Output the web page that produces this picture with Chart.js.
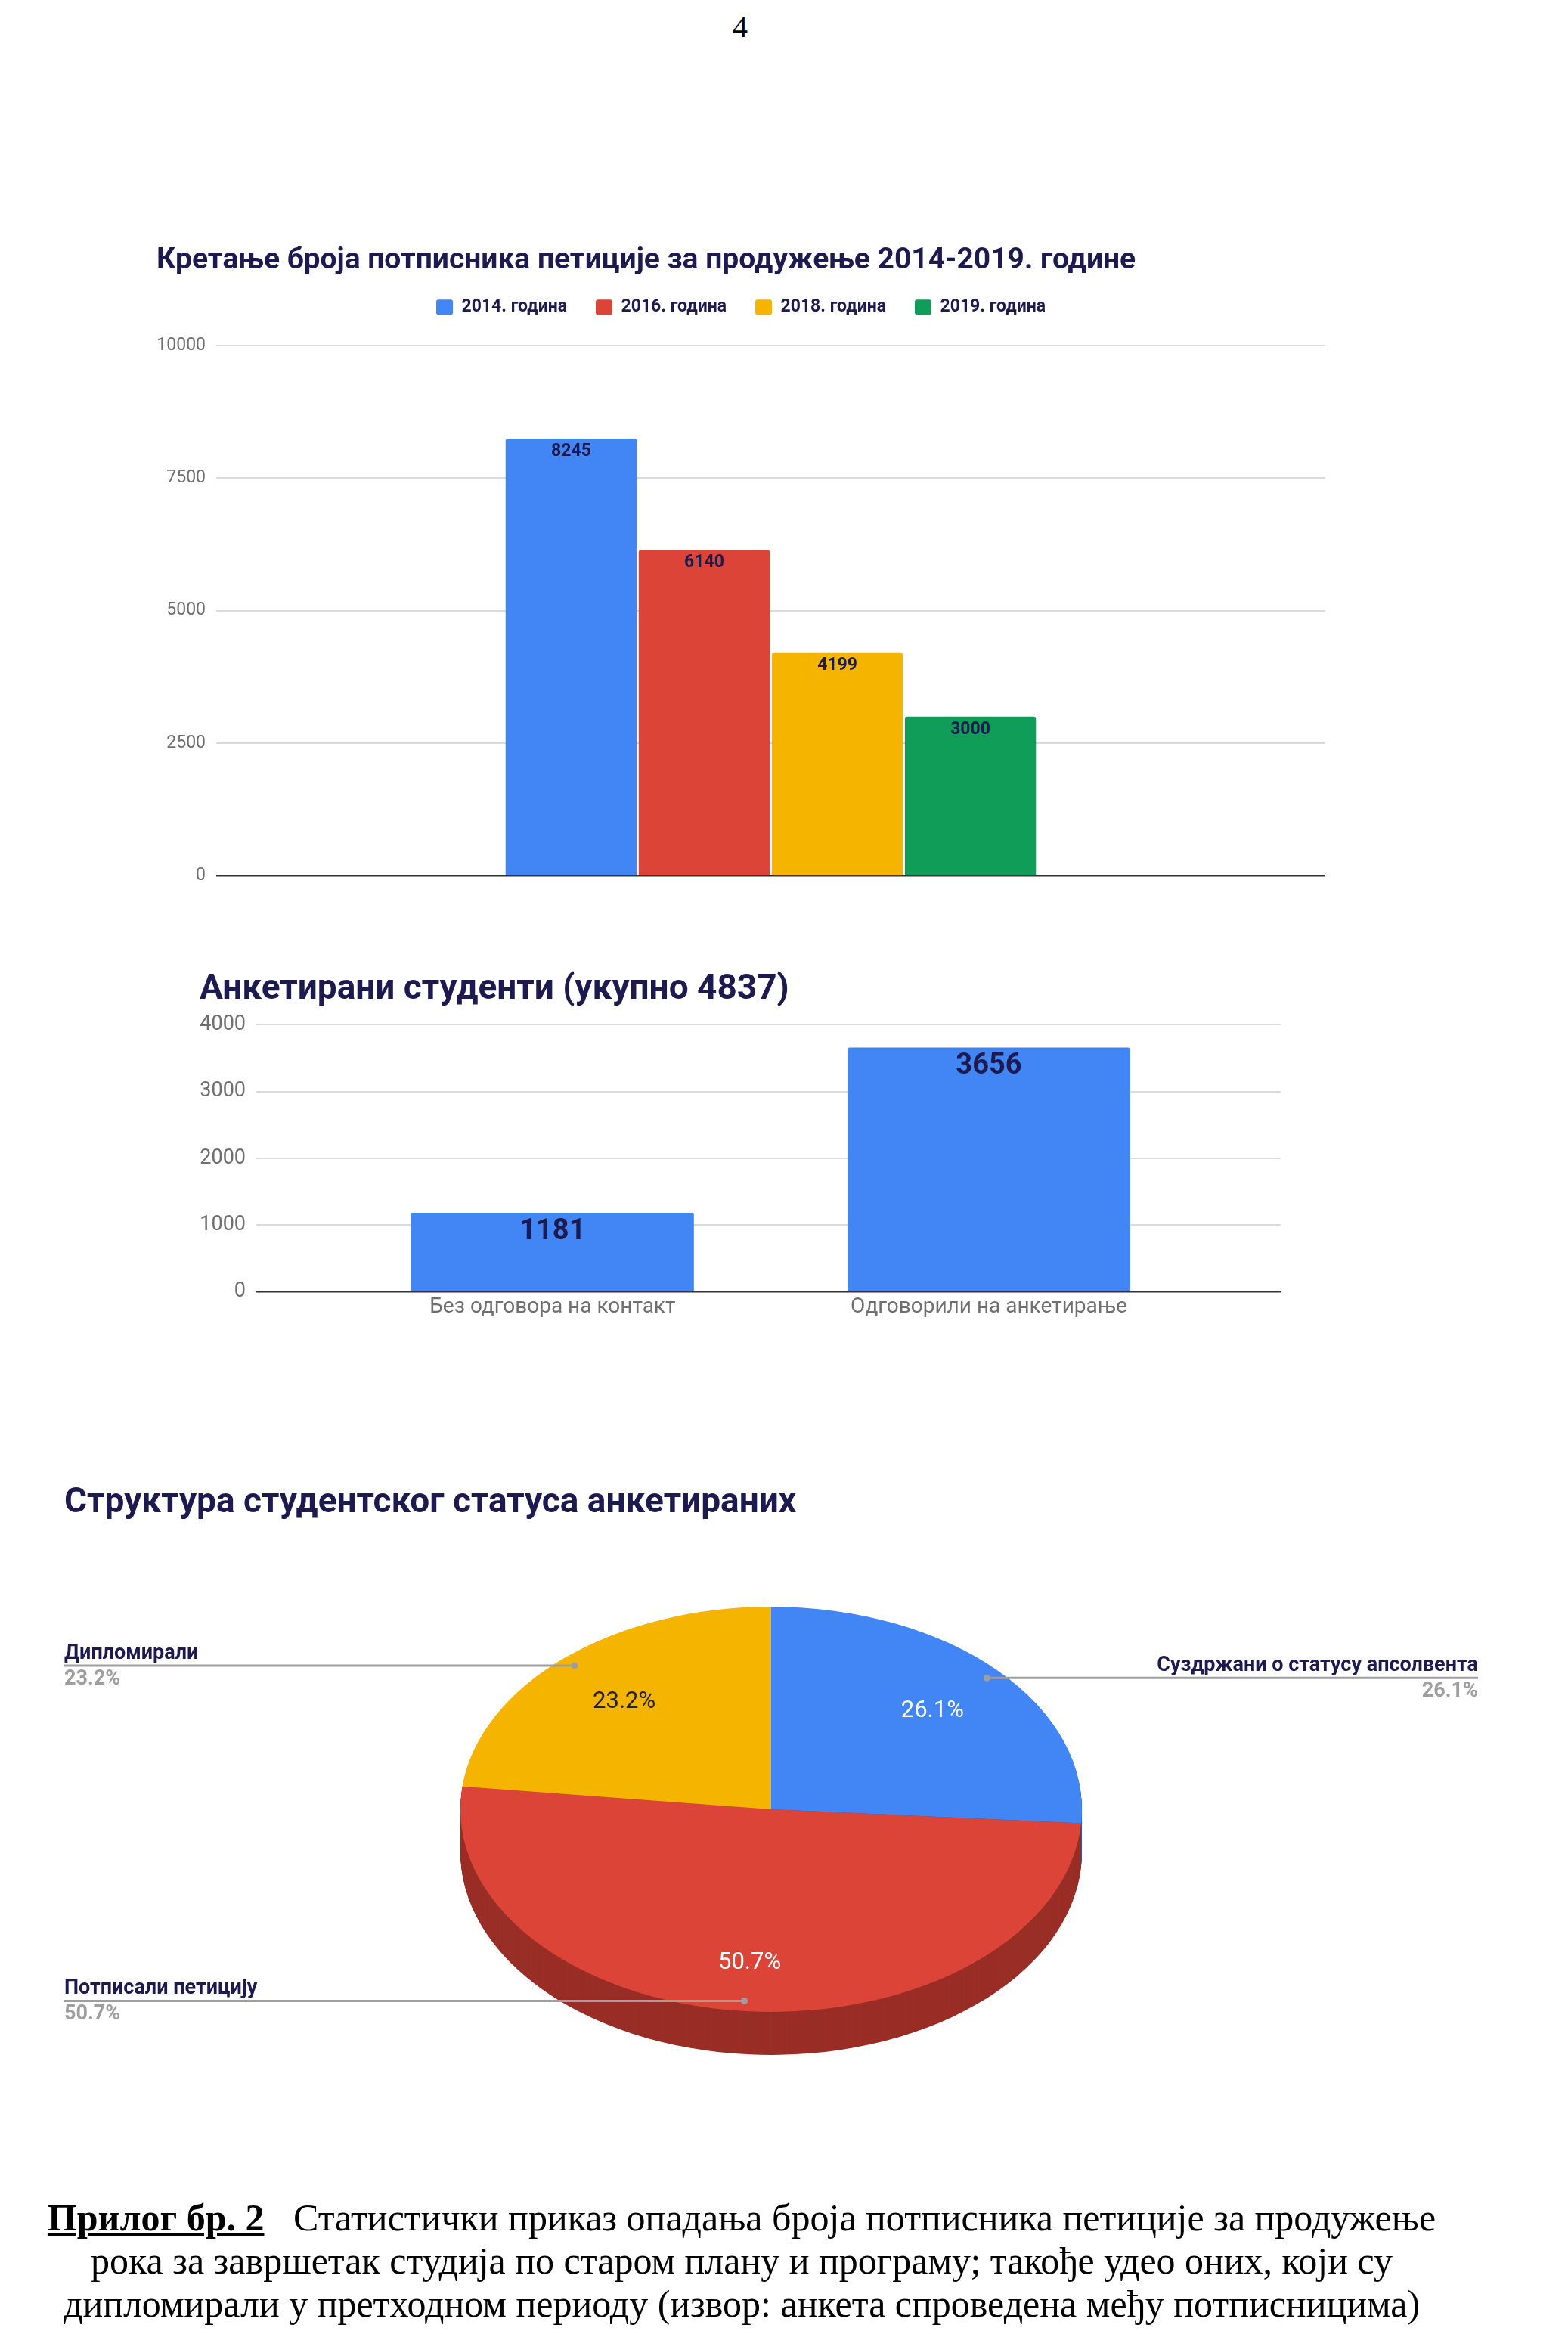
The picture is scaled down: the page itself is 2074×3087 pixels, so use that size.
<!DOCTYPE html>
<html>
<head>
<meta charset="utf-8">
<title>Прилог бр. 2</title>
<script src="https://cdn.jsdelivr.net/npm/chart.js@4.4.1/dist/chart.umd.min.js"></script>
<style>
	body { margin: 0; background: #fff; }
	#page { position: relative; width: 2074px; height: 3087px; overflow: hidden; background: #fff; }
	canvas { position: absolute; }
	.txt { position: absolute; color: #000; font-family: "Liberation Serif", serif; }
	#pageNum { left: 0; width: 1958px; top: 12px; text-align: center; font-size: 40px; line-height: 48px; }
	#caption { left: 0; width: 1962px; top: 2905px; text-align: center; font-size: 50px; line-height: 57px; white-space: nowrap; }
	#caption b { text-decoration: underline; margin-right: 26px; }
</style>
</head>
<body>
<div id="page">
	<div id="pageNum" class="txt">4</div>
	<canvas id="petitionChart" width="1555" height="866" style="left:207px;top:320px"></canvas>
	<canvas id="surveyChart" width="1440" height="478" style="left:264px;top:1272px"></canvas>
	<canvas id="statusChart" width="1884" height="900" style="left:85px;top:1961px"></canvas>
	<div id="caption" class="txt"><b>Прилог бр. 2</b> Статистички приказ опадања броја потписника петиције за продужење<br>рока за завршетак студија по старом плану и програму; такође удео оних, који су<br>дипломирали у претходном периоду (извор: анкета спроведена међу потписницима)</div>
</div>
<script>
// chart values
var petitionYears = ['2014. година', '2016. година', '2018. година', '2019. година'];
var petitionCounts = [8245, 6140, 4199, 3000];
var petitionTicks = [0, 2500, 5000, 7500, 10000];

var surveyLabels = ['Без одговора на контакт', 'Одговорили на анкетирање'];
var surveyCounts = [1181, 3656];
var surveyTicks = [0, 1000, 2000, 3000, 4000];

var statusLabels = ['Суздржани о статусу апсолвента', 'Потписали петицију', 'Дипломирали'];
var statusShares = [26.1, 50.7, 23.2];

// google-ish palette
var blue = '#4285F4', red = '#DB4437', yellow = '#F4B400', green = '#0F9D58';
var navy = '#1c1a4e';
var tickGray = '#6f6f6f';

Chart.defaults.font.family = 'Roboto';
Chart.defaults.animation = false;

// writes the value inside the top of every bar
var barValueLabels = {
	id: 'barValueLabels',
	afterDatasetsDraw: function(chart, args, opts) {
		var ctx = chart.ctx;
		ctx.save();
		ctx.font = opts.font;
		ctx.fillStyle = opts.color;
		ctx.textAlign = 'center';
		ctx.textBaseline = 'middle';
		chart.data.datasets.forEach(function(ds, i) {
			chart.getDatasetMeta(i).data.forEach(function(bar, j) {
				var v = ds.data[j];
				if (typeof v === 'object') v = v.y;
				ctx.fillText(String(v), bar.x, bar.y + opts.offset);
			});
		});
		ctx.restore();
	}
};

function gridColor(c) {
	return c.tick.value === 0 ? '#333333' : '#dadada';
}
function gridWidth(c) {
	return c.tick.value === 0 ? 2.5 : 2;
}
function plainNumber(v) {
	return String(v); // no thousands comma
}
function fixedWidth(w) {
	return function(axis) { axis.width = w; };
}

// ---- chart 1: petition signers per year ----
var petitionDatasets = petitionYears.map(function(year, i) {
	return {
		label: year,
		data: [petitionCounts[i]],
		backgroundColor: [blue, red, yellow, green][i],
		borderRadius: { topLeft: 3, topRight: 3 },
		borderSkipped: 'bottom',
		categoryPercentage: 0.48,
		barPercentage: 0.985
	};
});

new Chart(document.getElementById('petitionChart'), {
	type: 'bar',
	data: { labels: [''], datasets: petitionDatasets },
	options: {
		responsive: false,
		devicePixelRatio: 1,
		layout: { padding: { right: 9, bottom: 0 } },
		plugins: {
			title: {
				display: true,
				text: 'Кретање броја потписника петиције за продужење 2014-2019. године',
				align: 'start',
				color: navy,
				font: { size: 39, weight: 'bold' },
				// negative bottom: the legend padding below is wide on purpose
				padding: { top: 2, bottom: -12 }
			},
			legend: {
				display: true,
				labels: {
					color: navy,
					font: { size: 23, weight: 'bold' },
					boxWidth: 22,
					boxHeight: 20,
					useBorderRadius: true,
					borderRadius: 3,
					padding: 38
				}
			},
			// empty spacer between legend and plot
			subtitle: {
				display: true,
				text: ' ',
				weight: 500,
				font: { size: 1, lineHeight: 1 },
				padding: { top: 28, bottom: 0 }
			},
			tooltip: { enabled: false },
			barValueLabels: { font: 'bold 23px Roboto', color: navy, offset: 17 }
		},
		scales: {
			x: { display: false },
			y: {
				min: 0,
				max: 10000,
				afterBuildTicks: function(axis) {
					axis.ticks = petitionTicks.map(function(v) { return { value: v }; });
				},
				afterFit: fixedWidth(79),
				border: { display: false },
				grid: { color: gridColor, lineWidth: gridWidth, drawTicks: false },
				ticks: { color: tickGray, font: { size: 23 }, padding: 14, callback: plainNumber }
			}
		}
	},
	plugins: [barValueLabels]
});

// ---- chart 2: surveyed students ----
// linear x so the two bars sit where the original put them
var surveyPoints = surveyCounts.map(function(v, i) { return { x: i, y: v }; });

new Chart(document.getElementById('surveyChart'), {
	type: 'bar',
	data: {
		datasets: [{
			label: 'Анкетирани студенти',
			data: surveyPoints,
			backgroundColor: blue,
			borderRadius: { topLeft: 3, topRight: 3 },
			borderSkipped: 'bottom',
			categoryPercentage: 1,
			barPercentage: 0.648
		}]
	},
	options: {
		responsive: false,
		devicePixelRatio: 1,
		layout: { padding: { right: 10 } },
		plugins: {
			title: {
				display: true,
				text: 'Анкетирани студенти (укупно 4837)',
				align: 'start',
				color: navy,
				font: { size: 46, weight: 'bold' },
				padding: { top: 10, bottom: 18 }
			},
			legend: { display: false },
			tooltip: { enabled: false },
			barValueLabels: { font: 'bold 38px Roboto', color: navy, offset: 25 }
		},
		scales: {
			x: {
				type: 'linear',
				offset: false,
				min: -0.679,
				max: 1.669,
				afterBuildTicks: function(axis) {
					axis.ticks = surveyLabels.map(function(l, i) { return { value: i }; });
				},
				border: { display: false },
				grid: { display: false, drawTicks: false },
				ticks: {
					color: tickGray,
					font: { size: 28 },
					padding: 4,
					maxRotation: 0,
					callback: function(v) { return surveyLabels[v]; }
				}
			},
			y: {
				min: 0,
				max: 4000,
				afterBuildTicks: function(axis) {
					axis.ticks = surveyTicks.map(function(v) { return { value: v }; });
				},
				afterFit: fixedWidth(75),
				border: { display: false },
				grid: { color: gridColor, lineWidth: gridWidth, drawTicks: false },
				ticks: { color: tickGray, font: { size: 27 }, padding: 14, callback: plainNumber }
			}
		}
	},
	plugins: [barValueLabels]
});

// ---- chart 3: tilted pie with a rim, plus callout labels ----
function squash(ctx, arc, opts, dy) {
	ctx.translate(arc.x, opts.centerY + dy);
	ctx.scale(1, opts.tilt);
	ctx.translate(-arc.x, -arc.y);
}

var pie3d = {
	id: 'pie3d',
	beforeDatasetsDraw: function(chart, args, opts) {
		var ctx = chart.ctx;
		var arcs = chart.getDatasetMeta(0).data;
		// stack darker copies downward to fake the side of the disc
		for (var d = opts.depth; d > 0; d--) {
			arcs.forEach(function(a, i) {
				ctx.save();
				squash(ctx, a, opts, d);
				ctx.beginPath();
				ctx.moveTo(a.x, a.y);
				ctx.arc(a.x, a.y, a.outerRadius, a.startAngle, a.endAngle);
				ctx.closePath();
				ctx.fillStyle = opts.sideColors[i];
				ctx.fill();
				ctx.restore();
			});
		}
		ctx.save();
		squash(ctx, arcs[0], opts, 0);
	},
	afterDatasetsDraw: function(chart, args, opts) {
		var ctx = chart.ctx;
		ctx.restore();
		var arcs = chart.getDatasetMeta(0).data;
		var rightEdge = chart.chartArea.right;
		arcs.forEach(function(a, i) {
			var mid = (a.startAngle + a.endAngle) / 2;
			var pct = statusShares[i].toFixed(1) + '%';

			// value inside the slice
			var f = opts.labelRadius[i];
			var lx = a.x + Math.cos(mid) * a.outerRadius * f;
			var ly = opts.centerY + Math.sin(mid) * a.outerRadius * f * opts.tilt;
			ctx.font = '31px Roboto';
			ctx.fillStyle = opts.innerColors[i];
			ctx.textAlign = 'center';
			ctx.textBaseline = 'middle';
			ctx.fillText(pct, lx, ly);

			// callout line with a dot on the slice
			var dx = a.x + Math.cos(mid) * a.outerRadius * 0.95;
			var dy = opts.centerY + Math.sin(mid) * a.outerRadius * 0.95 * opts.tilt;
			var left = Math.cos(mid) < 0;
			ctx.strokeStyle = '#9e9e9e';
			ctx.lineWidth = 3;
			ctx.beginPath();
			ctx.moveTo(left ? 0 : dx, dy);
			ctx.lineTo(left ? dx : rightEdge, dy);
			ctx.stroke();
			ctx.fillStyle = '#9e9e9e';
			ctx.beginPath();
			ctx.arc(dx, dy, 4.5, 0, Math.PI * 2);
			ctx.fill();

			ctx.textAlign = left ? 'left' : 'right';
			var tx = left ? 0 : rightEdge;
			ctx.font = 'bold 27px Roboto';
			ctx.fillStyle = navy;
			ctx.fillText(statusLabels[i], tx, dy - 16);
			ctx.fillStyle = '#9e9e9e';
			ctx.fillText(pct, tx, dy + 18);
		});
	}
};

new Chart(document.getElementById('statusChart'), {
	type: 'pie',
	data: {
		labels: statusLabels,
		datasets: [{
			data: statusShares,
			backgroundColor: [blue, red, yellow],
			borderWidth: 0,
			radius: 411,
			clip: false
		}]
	},
	options: {
		responsive: false,
		devicePixelRatio: 1,
		layout: { padding: { right: 14 } },
		plugins: {
			title: {
				display: true,
				text: 'Структура студентског статуса анкетираних',
				align: 'start',
				color: navy,
				font: { size: 46, weight: 'bold' },
				padding: { top: 0, bottom: 0 }
			},
			legend: { display: false },
			tooltip: { enabled: false },
			pie3d: {
				centerY: 432,
				tilt: 0.652,
				depth: 57,
				labelRadius: [0.71, 0.76, 0.71],
				sideColors: ['#2d5cab', '#992e26', '#a97c00'],
				innerColors: ['#ffffff', '#ffffff', '#222222']
			}
		}
	},
	plugins: [pie3d]
});
</script>
</body>
</html>
